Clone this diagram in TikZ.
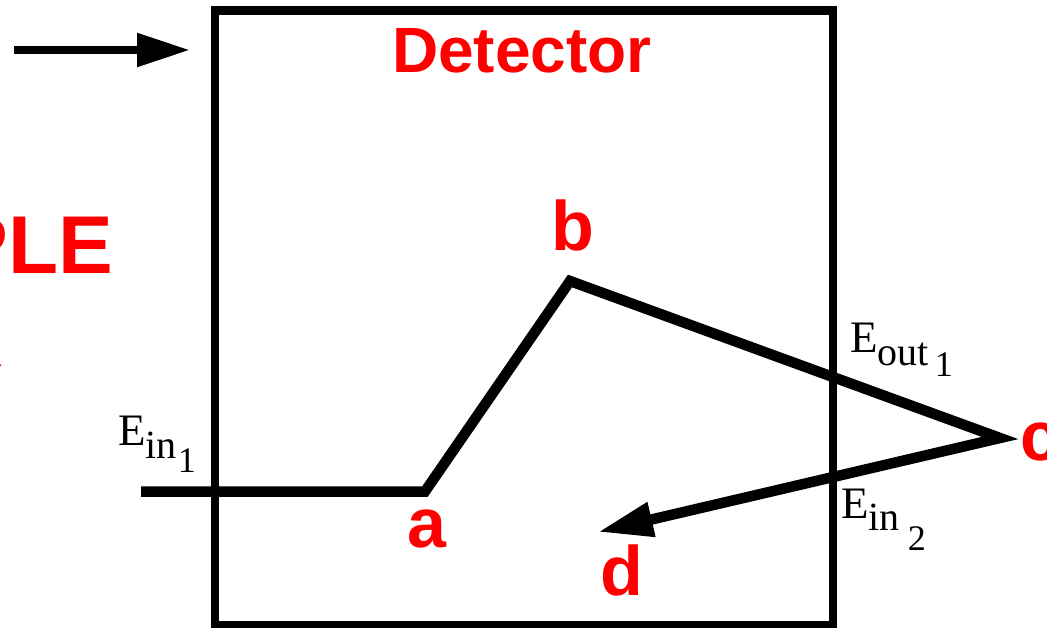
\documentclass[tikz,border=0pt]{standalone}
\usepackage{fontspec}
\setmainfont{Liberation Serif}
\newfontfamily\lsans{Liberation Sans}
\usetikzlibrary{arrows.meta}
\newcommand\Esub[5]{E\raisebox{-#3pt}{\fontsize{40}{40}\selectfont #1\hspace{#5pt}\raisebox{-#4pt}{\fontsize{36}{36}\selectfont #2}}}
\begin{document}
\begin{tikzpicture}[x=1pt,y=-1pt,
  redlbl/.style={text=red, font=\lsans\bfseries\fontsize{70}{70}\selectfont, inner sep=0pt, anchor=base},
  bigred/.style={text=red, font=\lsans\bfseries\fontsize{82}{82}\selectfont, inner sep=0pt, anchor=base east},
  elbl/.style={font=\fontsize{45}{45}\selectfont, inner sep=0pt, anchor=base west},
  boxline/.style={draw=black, line width=8.5pt, inner sep=0pt},
  track/.style={draw=black, line width=10.5pt, line join=miter, line cap=butt},
  toparrow/.style={draw=black, line width=8.5pt, -{Triangle[length=53pt,width=32pt]}}
]
\useasboundingbox (0,0) rectangle (1047,627);
% detector box
\node[boxline, minimum width=618pt, minimum height=614.5pt] (det) at (524,317.75) {};
\node[redlbl, font=\lsans\bfseries\fontsize{64}{64}\selectfont] (dettext) at (522,72) {Detector};
% top arrow
\coordinate (t0) at (14,50);
\coordinate (t1) at (190,50);
\draw[toparrow] (t0) -- (t1);
% clipped left text
\node[bigred] (ple) at (113,273) {PLE};
\node[bigred] (frag) at (4,366) {R};
% track
\coordinate (p0) at (141,491.5);
\coordinate (pa) at (425,491.5);
\coordinate (pb) at (570,281);
\coordinate (pc) at (1000,438);
\coordinate (pd) at (598,532);
\draw[track, -{Triangle[length=55pt,width=33pt]}] (p0) -- (pa) -- (pb) -- (pc) -- (pd);
% point labels
\node[redlbl] (la) at (427,547) {a};
\node[redlbl] (lb) at (573,250) {b};
\node[redlbl, anchor=base west] (lc) at (1020,460) {c};
\node[redlbl] (ld) at (622,595) {d};
% energy labels
\node[elbl] (ein1) at (118,445) {\Esub{in}{1}{13}{14}{1}};
\node[elbl] (eout1) at (850,352) {\Esub{out}{1}{13}{11}{6}};
\node[elbl] (ein2) at (841,518) {\Esub{in}{2}{12}{20}{8}};
\end{tikzpicture}
\end{document}
